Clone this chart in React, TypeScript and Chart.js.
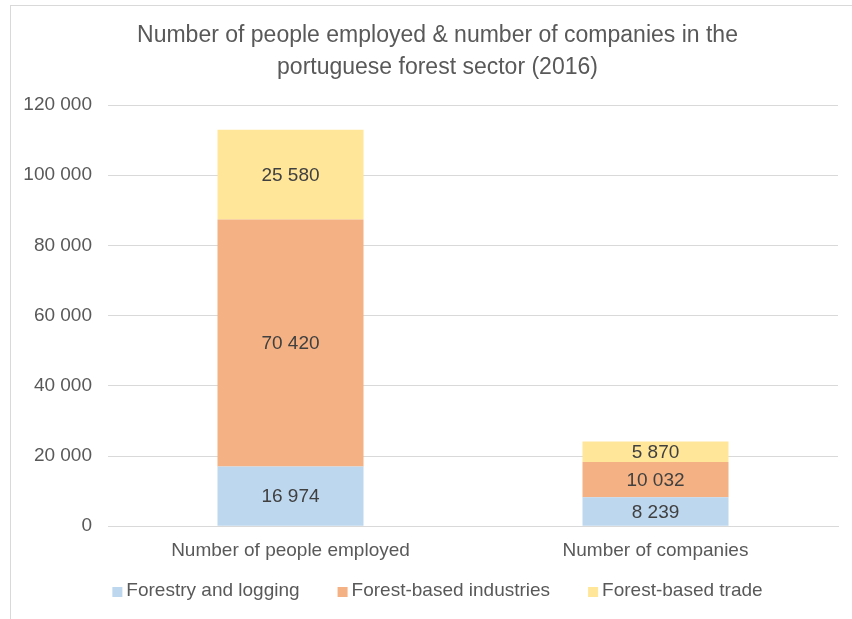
import React, { useEffect, useRef } from "react";
import { Chart, registerables } from "chart.js";

Chart.register(...registerables);

const categories = ["Number of people employed", "Number of companies"];
const forestryLogging = [16974, 8239];
const forestIndustries = [70420, 10032];
const forestTrade = [25580, 5870];
const seriesNames = ["Forestry and logging", "Forest-based industries", "Forest-based trade"];
const seriesColors = ["#BDD7EE", "#F4B183", "#FFE699"];
const titleLines = [
  "Number of people employed & number of companies in the",
  "portuguese forest sector (2016)",
];
const yMax = 120000;
const yStep = 20000;

const FONT = "'Liberation Sans', Arial, sans-serif";
const TEXT = "#595959";
const fmt = (v: number) => String(Math.round(v)).replace(/\B(?=(\d{3})+(?!\d))/g, " ");

const labelPlugin = {
  id: "segLabels",
  afterDatasetsDraw(chart: any) {
    const ctx = chart.ctx;
    ctx.save();
    ctx.font = `19px ${FONT}`;
    ctx.fillStyle = "#404040";
    ctx.textAlign = "center";
    ctx.textBaseline = "middle";
    chart.data.datasets.forEach((ds: any, i: number) => {
      const meta = chart.getDatasetMeta(i);
      meta.data.forEach((el: any, j: number) => {
        const v = ds.data[j];
        ctx.fillText(fmt(v), el.x, (el.y + el.base) / 2 + 1);
      });
    });
    ctx.restore();
  },
};

// Title and legend, centred over the whole chart object
const frameText = {
  id: "frameText",
  afterDraw(chart: any) {
    const ctx = chart.ctx;
    const cx = chart.width / 2;
    ctx.save();
    ctx.fillStyle = TEXT;
    ctx.textBaseline = "middle";
    ctx.textAlign = "center";
    ctx.font = `23px ${FONT}`;
    titleLines.forEach((t, i) => ctx.fillText(t, cx, 30 + i * 32));

    ctx.font = `19px ${FONT}`;
    ctx.textAlign = "left";
    const box = 10;
    const gapBox = 4;
    const gapItem = 38;
    const widths = chart.data.datasets.map((d: any) => ctx.measureText(d.label).width);
    const total =
      widths.reduce((a: number, b: number) => a + b, 0) +
      widths.length * (box + gapBox) +
      (widths.length - 1) * gapItem;
    let x = cx - total / 2;
    const y = chart.height - 28;
    chart.data.datasets.forEach((d: any, i: number) => {
      ctx.fillStyle = d.backgroundColor;
      ctx.fillRect(x, y - box / 2 + 1, box, box);
      x += box + gapBox;
      ctx.fillStyle = TEXT;
      ctx.fillText(d.label, x, y);
      x += widths[i] + gapItem;
    });
    ctx.restore();
  },
};

export default function App() {
  const ref = useRef<HTMLCanvasElement>(null);
  useEffect(() => {
    if (!ref.current) return;
    const chart = new Chart(ref.current, {
      type: "bar",
      data: {
        labels: categories,
        datasets: [
          { label: seriesNames[0], data: forestryLogging, backgroundColor: seriesColors[0] },
          { label: seriesNames[1], data: forestIndustries, backgroundColor: seriesColors[1] },
          { label: seriesNames[2], data: forestTrade, backgroundColor: seriesColors[2] },
        ],
      },
      options: {
        animation: false,
        responsive: true,
        maintainAspectRatio: false,
        layout: { padding: { left: 0, right: 26, top: 99, bottom: 52 } },
        datasets: { bar: { categoryPercentage: 1, barPercentage: 0.4 } } as any,
        scales: {
          x: {
            stacked: true,
            grid: { display: false },
            border: { display: true, color: "#d9d9d9" },
            ticks: { color: TEXT, font: { family: FONT, size: 19 }, padding: 5 },
          },
          y: {
            stacked: true,
            min: 0,
            max: yMax,
            grid: { color: "#d9d9d9", drawTicks: false },
            border: { display: false },
            afterFit: (scale: any) => {
              scale.width = 97;
            },
            ticks: {
              stepSize: yStep,
              padding: 16,
              color: TEXT,
              font: { family: FONT, size: 19 },
              callback: (v: any) => fmt(Number(v)),
            },
          },
        },
        plugins: {
          title: { display: false },
          legend: { display: false },
          tooltip: { enabled: false },
        },
      },
      plugins: [labelPlugin, frameText],
    });
    return () => chart.destroy();
  }, []);
  return (
    <div
      style={{
        position: "absolute",
        left: 10,
        top: 5,
        width: 841,
        height: 613,
        overflow: "hidden",
        borderLeft: "1px solid #d9d9d9",
        borderTop: "1px solid #d9d9d9",
        background: "#fff",
      }}
    >
      <div style={{ position: "relative", width: 853, height: 613 }}>
        <canvas ref={ref} />
      </div>
    </div>
  );
}
